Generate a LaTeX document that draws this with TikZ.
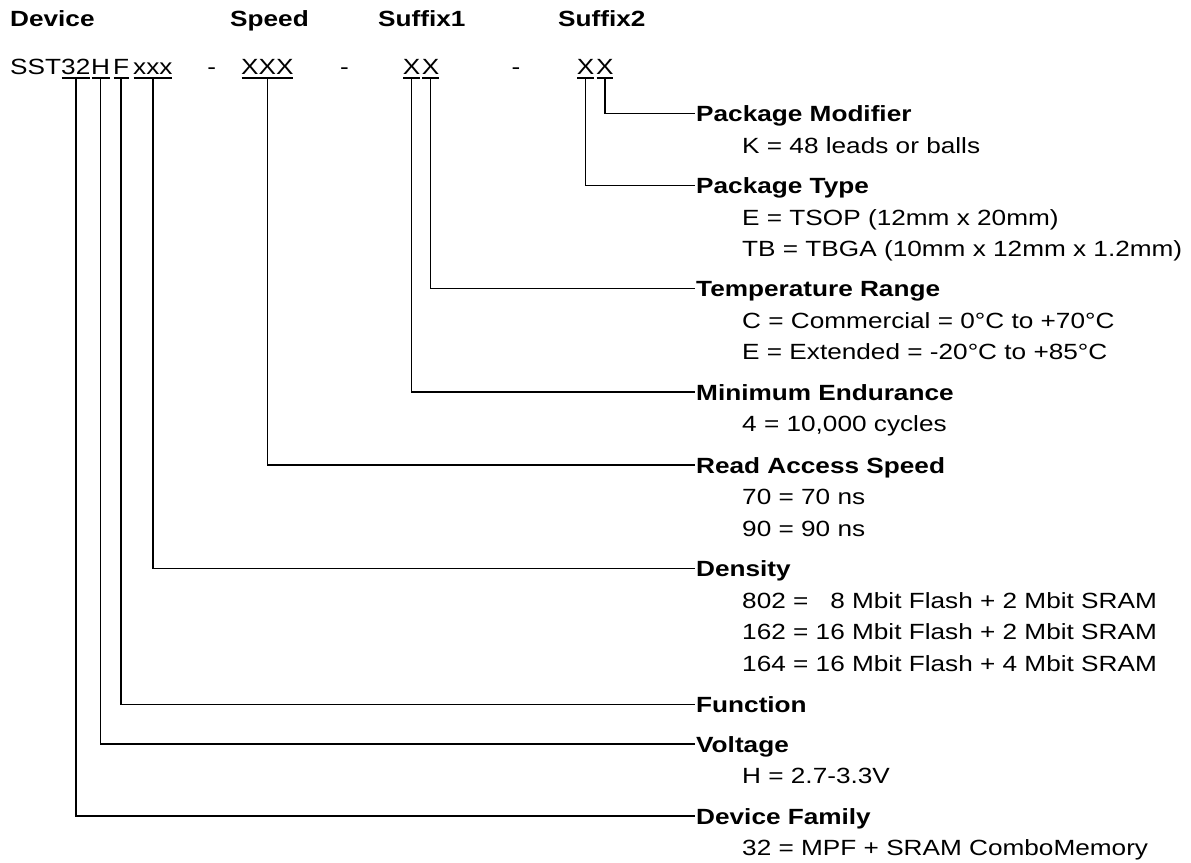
\documentclass[tikz,border=0pt]{standalone}
\usepackage{fontspec}
\setmainfont{Liberation Sans}[FakeStretch=1.19]
\newcommand{\fsz}{\fontsize{22}{26}\selectfont}
\tikzset{
  txt/.style={inner sep=0pt, anchor=base west, font=\fsz},
  head/.style={txt, font=\fsz\bfseries},
  lbl/.style={inner sep=0pt, anchor=base west, font=\fsz\bfseries, text height=16pt, text depth=0pt},
  conn/.style={line width=1.6pt},
  uline/.style={line width=1.3pt},
}
\begin{document}
\begin{tikzpicture}[x=1pt,y=-1pt]
\fill[white] (0,0) rectangle (1191,862);
\useasboundingbox (0,0) rectangle (1191,862);

% header
\node[head] (hdev) at (10,26.7) {Device};
\node[head] (hspd) at (230,26.7) {Speed};
\node[head] (hs1) at (378,26.7) {Suffix1};
\node[head] (hs2) at (558,26.7) {Suffix2};

% part number
\node[txt] (sst) at (10,74.5) {SST};
\node[txt] (p32) at (61,74.5) {32};
\node[txt] (pH) at (91,74.5) {H};
\node[txt] (pF) at (113,74.5) {F};
\node[txt] (pxxx) at (133,74.5) {xxx};
\node[txt,anchor=base] (d1) at (211.7,74.5) {-};
\node[txt] (spd) at (241,74.5) {XXX};
\node[txt,anchor=base] (d2) at (344.4,74.5) {-};
\node[txt] (s1a) at (402.7,74.5) {X};
\node[txt] (s1b) at (421.7,74.5) {X};
\node[txt,anchor=base] (d3) at (516,74.5) {-};
\node[txt] (s2a) at (576.7,74.5) {X};
\node[txt] (s2b) at (596,74.5) {X};

\foreach \n in {p32,pH,pF,pxxx,spd,s1a,s1b,s2a,s2b}{
  \draw[uline] ([xshift=0.7pt,yshift=-3.5pt]\n.base west) -- ([xshift=-0.7pt,yshift=-3.5pt]\n.base east);
  \coordinate (\n-u) at ([yshift=-3.5pt]\n.base);
}

% labels
\node[lbl] (lPM) at (696,121.5) {Package Modifier};
\node[txt] (tPM1) at (742,153) {K = 48 leads or balls};

\node[lbl] (lPT) at (696,193.5) {Package Type};
\node[txt] (tPT1) at (742,225) {E = TSOP (12mm x 20mm)};
\node[txt] (tPT2) at (742,256.5) {TB = TBGA (10mm x 12mm x 1.2mm)};

\node[lbl] (lTR) at (696,296.5) {Temperature Range};
\node[txt] (tTR1) at (742,328) {C = Commercial = 0°C to +70°C};
\node[txt] (tTR2) at (742,359.5) {E = Extended = -20°C to +85°C};

\node[lbl] (lME) at (696,400) {Minimum Endurance};
\node[txt] (tME1) at (742,431.5) {4 = 10,000 cycles};

\node[lbl] (lRAS) at (696,473) {Read Access Speed};
\node[txt] (tRAS1) at (742,504.5) {70 = 70 ns};
\node[txt] (tRAS2) at (742,536) {90 = 90 ns};

\node[lbl] (lD) at (696,576.5) {Density};
\node[txt] (tD1) at (742,608) {802 = \phantom{1}8 Mbit Flash + 2 Mbit SRAM};
\node[txt] (tD2) at (742,639.5) {162 = 16 Mbit Flash + 2 Mbit SRAM};
\node[txt] (tD3) at (742,671) {164 = 16 Mbit Flash + 4 Mbit SRAM};

\node[lbl] (lF) at (696,712.5) {Function};

\node[lbl] (lV) at (696,752) {Voltage};
\node[txt] (tV1) at (742,783.5) {H = 2.7-3.3V};

\node[lbl] (lDF) at (696,824) {Device Family};
\node[txt] (tDF1) at (742,855.5) {32 = MPF + SRAM ComboMemory};

% connectors
\draw[conn] (s2b-u) |- ([xshift=-1.5pt]lPM.west);
\draw[conn] (s2a-u) |- ([xshift=-1.5pt]lPT.west);
\draw[conn] (s1b-u) |- ([xshift=-1.5pt]lTR.west);
\draw[conn] (s1a-u) |- ([xshift=-1.5pt]lME.west);
\draw[conn] (spd-u) |- ([xshift=-1.5pt]lRAS.west);
\draw[conn] (pxxx-u) |- ([xshift=-1.5pt]lD.west);
\draw[conn] (pF-u) |- ([xshift=-1.5pt]lF.west);
\draw[conn] (pH-u) |- ([xshift=-1.5pt]lV.west);
\draw[conn] (p32-u) |- ([xshift=-1.5pt]lDF.west);
\end{tikzpicture}
\end{document}
